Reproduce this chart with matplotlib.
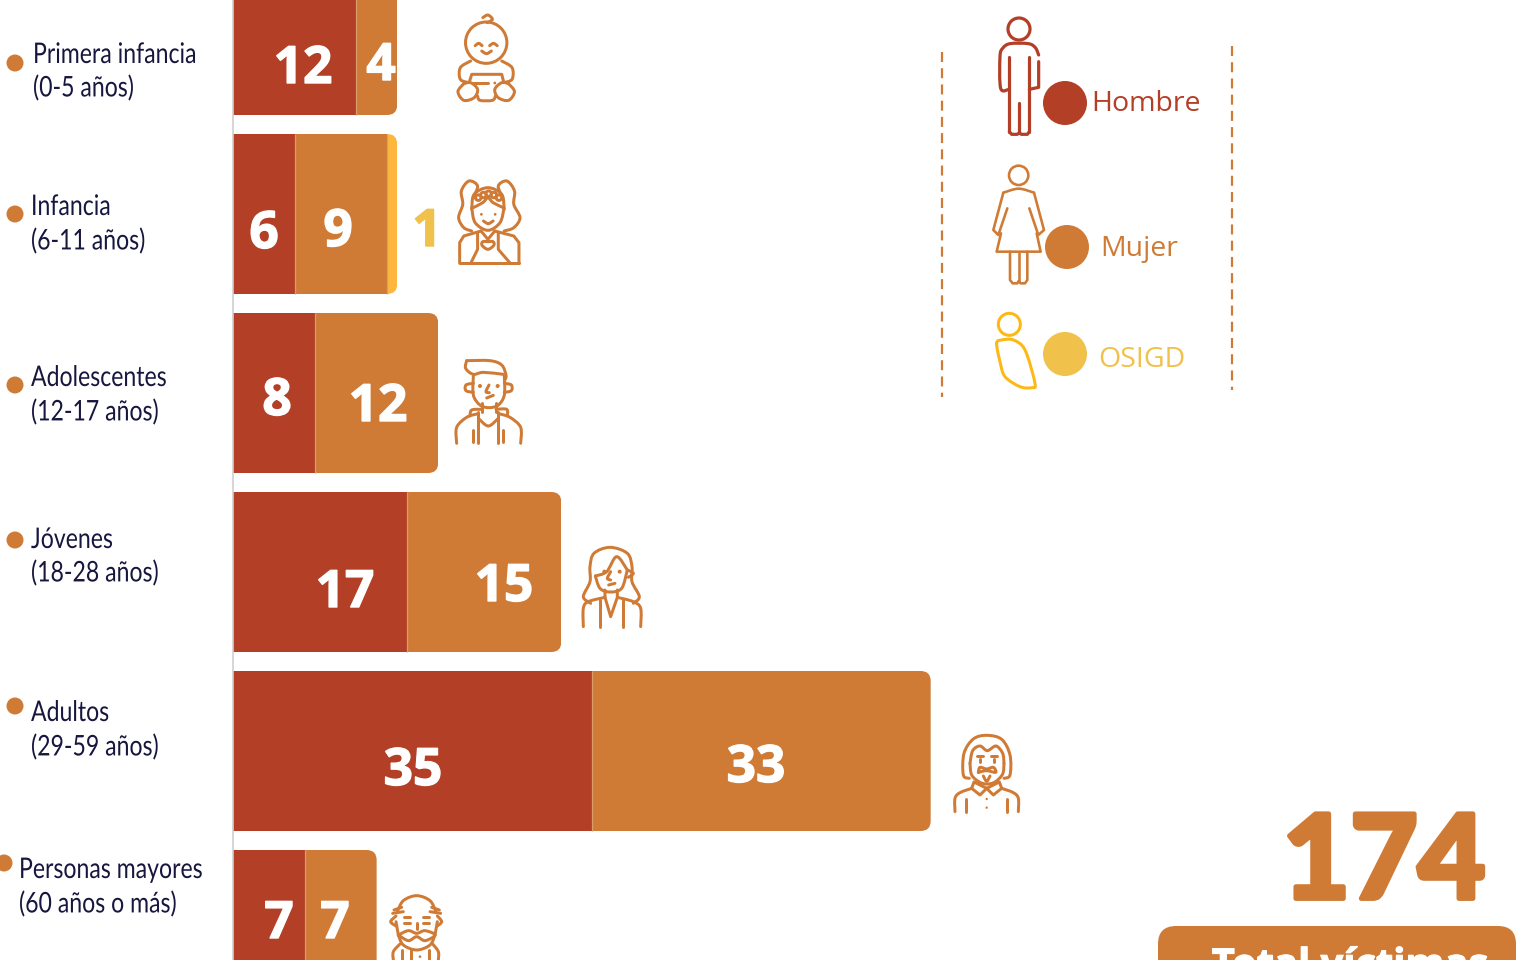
import matplotlib
matplotlib.use('Agg')
import matplotlib.pyplot as plt
import matplotlib.patheffects as pe
from matplotlib.patches import Circle, FancyBboxPatch
from matplotlib.path import Path
from matplotlib.patches import PathPatch
from matplotlib.transforms import Affine2D

# data
categorias = [['Primera infancia', '(0-5 años)'], ['Infancia', '(6-11 años)'],
              ['Adolescentes', '(12-17 años)'], ['Jóvenes', '(18-28 años)'],
              ['Adultos', '(29-59 años)'], ['Personas mayores', '(60 años o más)']]
hombre = [12, 6, 8, 17, 35, 7]
mujer = [4, 9, 12, 15, 33, 7]
osigd = [0, 1, 0, 0, 0, 0]
total = 174
total_label = 'Total víctimas'
legend_names = ['Hombre', 'Mujer', 'OSIGD']

# colours
ROJO = '#B23F26'
NARANJA = '#CF7B36'
AMARILLO = '#FDB73C'
AMARILLO_TXT = '#F0C14B'
LINEA = '#FDB813'
TINTA = '#16163F'

# layout, in pixels of the picture
W, H = 1523, 960
X0 = 233
PX_PER_UNIT = 10.26
row_top = [-45, 134, 313, 492, 671, 850]
row_h = 160
bullets = [(15, 63), (15, 214), (15, 385), (15, 540), (15, 706), (4, 863)]
label_pos = [(33, 53, 86), (31, 205, 239), (31, 376, 410), (31, 538, 571), (31, 711, 745), (19, 868, 902)]
hombre_txt = [(303, 66), (264, 231), (277, 398), (345, 590), (413, 768), (279, 921)]
mujer_txt = [(381, 63), (338, 229), (378, 404), (504, 584), (756, 765), (335, 921)]


class Squeeze(pe.AbstractPathEffect):
    '''Narrows a text around x0 (display pixels), the text stays a text.'''
    def __init__(self, x0, sx):
        super().__init__()
        self.x0 = x0
        self.sx = sx

    def draw_path(self, renderer, gc, tpath, affine, rgbFace=None):
        a = affine + Affine2D().translate(-self.x0, 0).scale(self.sx, 1).translate(self.x0, 0)
        renderer.draw_path(gc, tpath, a, rgbFace)


fig = plt.figure(figsize=(W / 100, H / 100), dpi=100)
fig.patch.set_facecolor('white')

# bars live on a value axis, everything else on a pixel axis above it
ax_bar = fig.add_axes([X0 / W, 0, (W - X0) / W, 1])
ax_bar.set_xlim(0, (W - X0) / PX_PER_UNIT)
ax_bar.set_ylim(H, 0)
ax_bar.axis('off')

ax = fig.add_axes([0, 0, 1, 1])
ax.set_xlim(0, W)
ax.set_ylim(H, 0)
ax.axis('off')
ax.patch.set_alpha(0)

ax.plot([X0, X0], [0, H], color='#CFCFCF', lw=1.2, zorder=0)

for i in range(len(categorias)):
    suma = hombre[i] + mujer[i] + osigd[i]
    yc = row_top[i] + row_h / 2
    clip = FancyBboxPatch((X0 - 30, row_top[i]), suma * PX_PER_UNIT + 30, row_h,
                          boxstyle='round,pad=0,rounding_size=10',
                          transform=ax.transData)
    izq = 0
    for val, col in zip([hombre[i], mujer[i], osigd[i]], [ROJO, NARANJA, AMARILLO]):
        if val == 0:
            continue
        b = ax_bar.barh(yc, val, left=izq, height=row_h, color=col, lw=0)[0]
        b.set_clip_path(clip)
        if izq > 0:
            ax_bar.plot([izq, izq], [row_top[i], row_top[i] + row_h], color='#DB9C6C', lw=0.9,
                        solid_capstyle='butt')
        izq += val

num_font = dict(family='Open Sans', weight='bold', fontsize=37, ha='center', va='center')
for i in range(len(hombre)):
    for pos, val in [(hombre_txt[i], hombre[i]), (mujer_txt[i], mujer[i])]:
        ax.text(pos[0], pos[1] + 4, str(val), color='white',
                path_effects=[pe.withStroke(linewidth=1.0, foreground='white')], **num_font)
ax.text(427, 233, str(osigd[1]), color=AMARILLO_TXT,
        path_effects=[pe.withStroke(linewidth=1.0, foreground=AMARILLO_TXT)], **num_font)

# row labels
for (bx, by), (lx, y1, y2), (a, b) in zip(bullets, label_pos, categorias):
    ax.add_patch(Circle((bx, by), 8.5, color=NARANJA, lw=0))
    for txt, yy in [(a, y1), (b, y2)]:
        ax.text(lx, yy + 2, txt, family='Lato', fontsize=20.5, color=TINTA, ha='left', va='center',
                path_effects=[Squeeze(lx, 0.81)])


def stroke(pts, org=(0, 0), k=(1.0, 1.0), col=NARANJA, lw=3.0, smooth=True, closed=False):
    '''Line of an icon, given in crop coordinates.'''
    p = [(org[0] + x * k[0], org[1] + y * k[1]) for x, y in pts]
    if closed:
        p = p + [p[0]]
    if smooth and len(p) > 2:
        verts = [p[0]]
        codes = [Path.MOVETO]
        for j in range(len(p) - 1):
            if closed:
                a, d = p[j - 1] if j > 0 else p[-2], p[j + 2] if j + 2 < len(p) else p[1]
            else:
                a, d = p[max(j - 1, 0)], p[min(j + 2, len(p) - 1)]
            b, c = p[j], p[j + 1]
            verts += [(b[0] + (c[0] - a[0]) / 6, b[1] + (c[1] - a[1]) / 6),
                      (c[0] - (d[0] - b[0]) / 6, c[1] - (d[1] - b[1]) / 6), c]
            codes += [Path.CURVE4] * 3
    else:
        verts = p
        codes = [Path.MOVETO] + [Path.LINETO] * (len(p) - 1)
    ax.add_patch(PathPatch(Path(verts, codes), fc='none', ec=col, lw=lw * 0.72,
                           capstyle='round', joinstyle='round'))


def ring(c, r, org=(0, 0), k=(1.0, 1.0), col=NARANJA, lw=3.0):
    ax.add_patch(Circle((org[0] + c[0] * k[0], org[1] + c[1] * k[1]), r * k[0], fc='none', ec=col, lw=lw * 0.72))


def dot(c, r, org=(0, 0), k=(1.0, 1.0), col=NARANJA):
    ax.add_patch(Circle((org[0] + c[0] * k[0], org[1] + c[1] * k[1]), r * k[0], fc=col, ec='none'))


def draw_icon(lines, sharp, rings, dots, org, k):
    for s in lines:
        stroke(s, org, k)
    for s in sharp:
        stroke(s, org, k, smooth=False)
    for c, r in rings:
        ring(c, r, org, k)
    for c, r in dots:
        dot(c, r, org, k)


K1 = (1 / 2.9, 1 / 3)
K3 = (1 / 3, 1 / 3)

# baby
draw_icon(
    [[(1413, 65), (1428, 55), (1415, 42), (1400, 50)],
     [(1378, 134), (1388, 127), (1398, 134)], [(1420, 134), (1431, 127), (1442, 134)],
     [(1397, 150), (1411, 158), (1425, 150)],
     [(1365, 180), (1335, 200), (1335, 235), (1360, 245)],
     [(1455, 180), (1485, 200), (1485, 235), (1460, 245)],
     [(1345, 248), (1328, 272), (1345, 298), (1375, 290), (1385, 265), (1365, 245), (1345, 248)],
     [(1475, 248), (1492, 272), (1475, 298), (1445, 290), (1435, 265), (1455, 245), (1475, 248)],
     [(1385, 285), (1392, 298), (1428, 298), (1437, 285)]],
    [[(1362, 240), (1368, 220), (1455, 220), (1460, 240)], [(1372, 245), (1415, 245)]],
    [((1410, 125), 60)], [((1435, 246), 4)], (0, 1), K1)

# girl
draw_icon(
    [[(1372, 590), (1385, 555), (1360, 540), (1338, 570), (1342, 610), (1330, 650), (1345, 680), (1368, 690)],
     [(1458, 590), (1445, 555), (1470, 540), (1492, 570), (1490, 610), (1508, 650), (1490, 680), (1462, 690)],
     [(1368, 625), (1375, 580), (1415, 560), (1455, 580), (1462, 625)],
     [(1372, 620), (1400, 605), (1415, 590), (1430, 605), (1460, 620)],
     [(1368, 620), (1378, 665), (1415, 688), (1450, 665), (1462, 620)],
     [(1402, 660), (1416, 668), (1430, 660)],
     [(1415, 722), (1400, 722), (1398, 733), (1415, 745), (1432, 733), (1430, 722), (1415, 722)]],
    [[(1333, 787), (1505, 787)], [(1333, 787), (1333, 725), (1345, 705), (1395, 690)],
     [(1505, 787), (1505, 725), (1490, 705), (1435, 690)],
     [(1385, 695), (1385, 745), (1365, 787)], [(1445, 695), (1445, 745), (1480, 787)],
     [(1395, 690), (1415, 715), (1435, 690)]],
    [((1387, 590), 8), ((1402, 582), 8), ((1417, 578), 8), ((1432, 582), 8), ((1447, 590), 8)],
    [((1396, 640), 4), ((1436, 640), 4)], (0, 1), K1)

# boy
draw_icon(
    [[(290, 62), (360, 62), (395, 75), (408, 105), (405, 120)],
     [(290, 62), (287, 85), (310, 103), (340, 97), (400, 103)],
     [(310, 108), (310, 165), (330, 195), (357, 203), (385, 195), (403, 165), (403, 108)],
     [(310, 130), (288, 135), (288, 152), (310, 157)], [(403, 130), (424, 135), (424, 152), (403, 157)],
     [(357, 135), (348, 155), (358, 158)], [(350, 174), (370, 166)],
     [(260, 310), (260, 262), (290, 232), (320, 222)], [(452, 310), (452, 262), (420, 232), (390, 222)],
     [(325, 235), (355, 258), (385, 235)],
     [(300, 228), (305, 210), (335, 208)], [(412, 228), (410, 208), (378, 208)]],
    [[(335, 190), (335, 215)], [(378, 190), (378, 215)], [(325, 215), (325, 310)], [(385, 215), (385, 310)],
     [(310, 270), (310, 305)], [(400, 270), (400, 305)]],
    [], [((330, 138), 6), ((383, 138), 6)], (370, 340), K3)

# young woman
draw_icon(
    [[(662, 790), (640, 770), (660, 725), (660, 680), (672, 640), (720, 622), (772, 640), (786, 680), (786, 725), (808, 770), (790, 790)],
     [(676, 708), (710, 695), (740, 650), (772, 690)],
     [(676, 708), (690, 745), (720, 756), (755, 745), (772, 690)],
     [(722, 695), (712, 715), (722, 720)], [(716, 735), (735, 730)],
     [(772, 690), (790, 700), (775, 712)],
     [(640, 860), (640, 805), (655, 785), (705, 772)], [(812, 860), (812, 805), (790, 785), (742, 772)]],
    [[(705, 750), (705, 772), (722, 830), (742, 772), (742, 750)], [(690, 780), (690, 860)], [(760, 780), (760, 860)]],
    [], [((703, 695), 6), ((749, 695), 6)], (370, 340), K3)

# adult with moustache
draw_icon(
    [[(118, 175), (100, 165), (102, 100), (130, 57), (170, 46), (215, 58), (240, 105), (240, 165), (222, 175)],
     [(120, 130), (128, 92), (150, 78), (172, 92), (198, 78), (218, 100), (222, 130)],
     [(120, 130), (125, 165), (148, 186), (170, 192), (195, 186), (218, 162), (222, 130)],
     [(145, 157), (150, 142), (170, 147), (190, 142), (197, 157), (170, 152), (145, 157)],
     [(160, 168), (170, 184), (180, 168)],
     [(75, 275), (75, 235), (90, 218), (125, 205)], [(265, 275), (265, 235), (250, 218), (215, 205)]],
    [[(140, 108), (158, 108)], [(182, 108), (200, 108)], [(150, 118), (150, 126)], [(192, 118), (192, 126)],
     [(170, 205), (132, 186), (125, 205), (150, 225), (170, 205)],
     [(170, 205), (208, 186), (215, 205), (190, 225), (170, 205)],
     [(108, 238), (108, 275)], [(232, 238), (232, 275)]],
    [], [((170, 237), 3.5), ((170, 263), 3.5)], (930, 720), K3)

# elder
draw_icon(
    [[(82, 95), (100, 62), (140, 47), (180, 62), (198, 95)],
     [(78, 108), (62, 125), (78, 138)], [(202, 108), (215, 125), (202, 138)],
     [(85, 165), (115, 152), (140, 160), (165, 152), (195, 165), (165, 182), (140, 170), (115, 182), (85, 165)],
     [(85, 165), (100, 195), (140, 210), (180, 195), (195, 165)],
     [(70, 240), (70, 215), (90, 192)], [(205, 240), (205, 215), (188, 192)]],
    [[(68, 100), (100, 95)], [(72, 90), (95, 82)], [(212, 100), (180, 95)], [(208, 90), (185, 82)],
     [(78, 125), (85, 165)], [(202, 125), (195, 165)],
     [(103, 112), (120, 112)], [(160, 112), (177, 112)], [(103, 130), (120, 130)], [(160, 130), (177, 130)],
     [(140, 130), (140, 146)], [(97, 210), (97, 240)], [(122, 210), (122, 240)], [(178, 210), (178, 240)]],
    [], [((150, 230), 4)], (370, 880), K3)

# legend figures
L = (930, 0)
stroke([(238, 170), (238, 395)], L, K3, ROJO, 3.2, smooth=False)
stroke([(298, 170), (298, 395)], L, K3, ROJO, 3.2, smooth=False)
stroke([(237, 268), (212, 265), (210, 170), (218, 145), (240, 131), (295, 131), (316, 143), (326, 165)], L, K3, ROJO, 3.2)
stroke([(326, 185), (326, 262), (298, 268)], L, K3, ROJO, 3.2, smooth=False)
stroke([(238, 395), (245, 403), (262, 403), (268, 398), (274, 403), (292, 403), (298, 395)], L, K3, ROJO, 3.2, smooth=False)
stroke([(268, 308), (268, 398)], L, K3, ROJO, 3.2, smooth=False)
ring((267, 87), 33, L, K3, ROJO, 3.2)

stroke([(220, 578), (266, 566), (312, 578)], L, K3, NARANJA, 2.6)
stroke([(220, 578), (190, 690), (205, 705), (232, 625)], L, K3, NARANJA, 2.6, smooth=False)
stroke([(312, 578), (342, 690), (325, 705), (298, 625)], L, K3, NARANJA, 2.6, smooth=False)
stroke([(213, 700), (200, 755), (332, 755), (320, 700)], L, K3, NARANJA, 2.6, smooth=False)
stroke([(240, 755), (240, 840), (248, 850), (262, 850), (266, 843), (272, 850), (285, 850), (292, 840), (292, 755)], L, K3, NARANJA, 2.6, smooth=False)
stroke([(266, 758), (266, 843)], L, K3, NARANJA, 2.6, smooth=False)
ring((266, 526), 29, L, K3, NARANJA, 2.6)

ring((238, 973), 33, L, K3, LINEA, 3.0)
stroke([(200, 1030), (215, 1020), (250, 1020), (285, 1050), (315, 1150), (305, 1163), (270, 1160),
        (225, 1130), (210, 1085)], L, K3, LINEA, 3.0, closed=True)

# legend
leg_cols = [ROJO, NARANJA, AMARILLO_TXT]
leg_circ = [(1065, 103), (1067, 247), (1065, 354)]
leg_txt = [(1091, 104), (1100, 249), (1098, 360)]
for name, col, c, t in zip(legend_names, leg_cols, leg_circ, leg_txt):
    ax.add_patch(Circle(c, 22, color=col, lw=0))
    ax.text(t[0], t[1], name, family='Open Sans', fontsize=20.5, color=col, ha='left', va='center')

for x, y0, y1 in [(942, 52, 397), (1232, 46, 390)]:
    ax.plot([x, x], [y0, y1], color=NARANJA, lw=1.6, dashes=(4.5, 2.8))

# total
ax.text(1384, 898.5, str(total), family='Lato', weight='black', fontsize=84, color=NARANJA,
        ha='center', va='baseline', path_effects=[pe.withStroke(linewidth=3.5, foreground=NARANJA)])
ax.add_patch(FancyBboxPatch((1158, 926), 358, 90, boxstyle='round,pad=0,rounding_size=18',
                            fc=NARANJA, ec='none'))
ax.text(1350, 977, total_label, family='Open Sans', weight='bold', fontsize=28.7, color='white',
        ha='center', va='baseline', path_effects=[pe.withStroke(linewidth=0.8, foreground='white')])

fig.savefig('out.png', dpi=100)
